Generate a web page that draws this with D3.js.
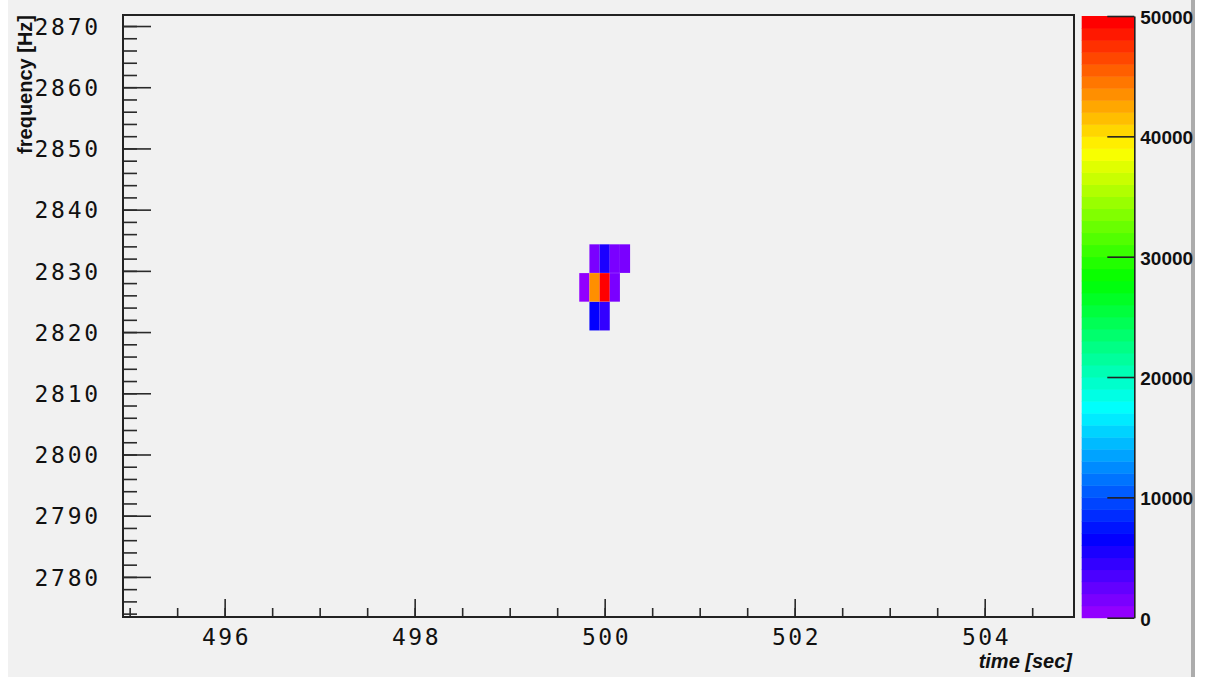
<!DOCTYPE html>
<html>
<head>
<meta charset="utf-8">
<script src="https://cdn.jsdelivr.net/npm/d3@7"></script>
<style>
  html, body { margin: 0; padding: 0; background: #ffffff; }
  svg { display: block; }
</style>
</head>
<body>
<svg id="chart" width="1213" height="677"></svg>
<script>
// Spectrogram bins around the 2.83 kHz burst at t = 500 s
const binWidthTime = 0.107;   // seconds per time bin
const binWidthFreq = 4.67;    // Hz per frequency bin
const cellTime  = [499.893, 500.0, 500.107, 500.214,
                   499.786, 499.893, 500.0, 500.107,
                   499.893, 500.0];
const cellFreq  = [2832.0, 2832.0, 2832.0, 2832.0,
                   2827.3, 2827.3, 2827.3, 2827.3,
                   2822.6, 2822.6];
const cellCount = [1300, 5400, 1000, 1100,
                   900, 43400, 49600, 1500,
                   6500, 4400];

// Axis ranges and tick labels
const timeRange = [494.93, 504.94];
const freqRange = [2773.45, 2871.8];
const countRange = [0, 50000];
const timeMajorTicks = [496, 498, 500, 502, 504];
const freqMajorTicks = [2780, 2790, 2800, 2810, 2820, 2830, 2840, 2850, 2860, 2870];
const countTicks = [0, 10000, 20000, 30000, 40000, 50000];
const nColors = 50;

const svg = d3.select("#chart");
const W = 1213, H = 677;

// canvas background with a grey edge strip on the right
svg.append("rect").attr("x", 8).attr("y", 0).attr("width", 1183).attr("height", H).attr("fill", "#f1f1f1");
svg.append("rect").attr("x", 1191).attr("y", 0).attr("width", 4).attr("height", H).attr("fill", "#acacac");

const frame = { left: 123, top: 15, right: 1074, bottom: 617 };

const x = d3.scaleLinear().domain(timeRange).range([frame.left, frame.right]);
const y = d3.scaleLinear().domain(freqRange).range([frame.bottom, frame.top]);
const z = d3.scaleLinear().domain(countRange).range([617.7, 16]);

// violet -> red spectrum palette with 50 discrete steps
function paletteColor(i) {
  const hue = 280 - (i + 1) * (280 / nColors);
  return d3.hsl(hue, 1, 0.5).formatHex();
}
function countColor(v) {
  const i = Math.min(nColors - 1, Math.max(0, Math.floor((v - countRange[0]) / (countRange[1] - countRange[0]) * nColors)));
  return paletteColor(i);
}

// heat-map cells
const cells = cellTime.map((t, i) => ({ t, f: cellFreq[i], v: cellCount[i] }));
svg.append("g").selectAll("rect").data(cells).join("rect")
  .attr("x", d => x(d.t - binWidthTime / 2))
  .attr("y", d => y(d.f + binWidthFreq / 2))
  .attr("width", d => x(d.t + binWidthTime / 2) - x(d.t - binWidthTime / 2))
  .attr("height", d => y(d.f - binWidthFreq / 2) - y(d.f + binWidthFreq / 2))
  .attr("fill", d => countColor(d.v));

const tickStroke = "#2a2a2a";
const monoFont = "'DejaVu Sans Mono', monospace";

// x axis: minor ticks every 0.5 s, major every 2 s
const xMinor = d3.range(495, 505, 0.5);
svg.append("g").attr("transform", `translate(0,${frame.bottom})`)
  .call(d3.axisBottom(x).tickValues(xMinor).tickSizeInner(-9).tickSizeOuter(0).tickFormat(""))
  .call(g => g.select(".domain").remove())
  .call(g => g.selectAll("line").attr("stroke", tickStroke).attr("stroke-width", 1.6));
const xAxis = svg.append("g").attr("transform", `translate(0,${frame.bottom})`)
  .call(d3.axisBottom(x).tickValues(timeMajorTicks).tickSizeInner(-18).tickSizeOuter(0).tickPadding(12).tickFormat(d3.format("d")))
  .call(g => g.select(".domain").remove());
xAxis.selectAll("line").attr("stroke", tickStroke).attr("stroke-width", 1.6);
xAxis.selectAll("text")
  .attr("font-family", monoFont).attr("font-size", 23).attr("fill", "#111")
  .attr("letter-spacing", "2.5px").attr("dx", "1.3px");

// y axis: minor ticks every 2 Hz, major every 10 Hz
const yMinor = d3.range(2774, 2872, 2);
svg.append("g").attr("transform", `translate(${frame.left},0)`)
  .call(d3.axisLeft(y).tickValues(yMinor).tickSizeInner(-14).tickSizeOuter(0).tickFormat(""))
  .call(g => g.select(".domain").remove())
  .call(g => g.selectAll("line").attr("stroke", tickStroke).attr("stroke-width", 1.6));
const yAxis = svg.append("g").attr("transform", `translate(${frame.left},0)`)
  .call(d3.axisLeft(y).tickValues(freqMajorTicks).tickSizeInner(-28).tickSizeOuter(0).tickPadding(22).tickFormat(d3.format("d")))
  .call(g => g.select(".domain").remove());
yAxis.selectAll("line").attr("stroke", tickStroke).attr("stroke-width", 1.6);
yAxis.selectAll("text")
  .attr("font-family", monoFont).attr("font-size", 23).attr("fill", "#111")
  .attr("letter-spacing", "2.8px").attr("dy", "0.36em");

// plot frame
svg.append("rect")
  .attr("x", frame.left).attr("y", frame.top)
  .attr("width", frame.right - frame.left).attr("height", frame.bottom - frame.top)
  .attr("fill", "none").attr("stroke", "#222").attr("stroke-width", 2);

// axis titles
svg.append("text")
  .attr("x", 1072).attr("y", 668)
  .attr("text-anchor", "end")
  .attr("font-family", "'Liberation Sans', Arial, sans-serif")
  .attr("font-weight", "bold").attr("font-style", "italic")
  .attr("font-size", 20).attr("fill", "#111")
  .text("time [sec]");
svg.append("text")
  .attr("transform", "translate(32,15) rotate(-90)")
  .attr("text-anchor", "end")
  .attr("font-family", "'Liberation Sans', Arial, sans-serif")
  .attr("font-weight", "bold")
  .attr("font-size", 20).attr("fill", "#111")
  .text("frequency [Hz]");

// colour scale bar
const barX0 = 1081.7, barX1 = 1134.3;
svg.append("g").selectAll("rect").data(d3.range(nColors)).join("rect")
  .attr("x", barX0)
  .attr("width", barX1 - barX0)
  .attr("y", i => z(countRange[0] + (i + 1) * (countRange[1] - countRange[0]) / nColors))
  .attr("height", i => z(countRange[0] + i * (countRange[1] - countRange[0]) / nColors) - z(countRange[0] + (i + 1) * (countRange[1] - countRange[0]) / nColors) + 0.5)
  .attr("fill", i => paletteColor(i));

const zAxis = svg.append("g").attr("transform", `translate(${barX1},0)`)
  .call(d3.axisRight(z).tickValues(countTicks).tickSizeInner(-27).tickSizeOuter(0).tickPadding(6).tickFormat(d3.format("d")));
zAxis.select(".domain").attr("stroke", "#222").attr("stroke-width", 1.6);
zAxis.selectAll("line").attr("stroke", "#222").attr("stroke-width", 1.6);
zAxis.selectAll("text")
  .attr("font-family", "'Liberation Sans', Arial, sans-serif")
  .attr("font-weight", "bold").attr("font-size", 19).attr("fill", "#111")
  .attr("dy", "0.40em");
</script>
</body>
</html>
